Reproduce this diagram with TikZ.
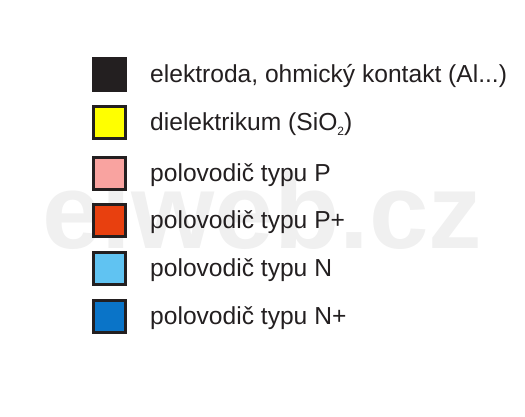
\documentclass[tikz,border=0pt]{standalone}
\usepackage{fontspec}
\setmainfont{Liberation Sans}
\definecolor{ink}{HTML}{231F20}
\definecolor{cyel}{HTML}{FFFF00}
\definecolor{cpink}{HTML}{F9A3A0}
\definecolor{cred}{HTML}{E8400F}
\definecolor{clblue}{HTML}{60C3F2}
\definecolor{cdblue}{HTML}{0A74C8}
\definecolor{wm}{HTML}{F0F0F0}
\tikzset{
  swatch/.style={draw=ink, line width=3pt, minimum size=32pt, inner sep=0pt, anchor=center},
  lbl/.style={anchor=base west, inner sep=0pt, text=ink, font=\fontsize{24.6}{28}\selectfont},
}
\begin{document}
\begin{tikzpicture}[x=1pt,y=-1pt]
\useasboundingbox (0,0) rectangle (525,416);
\node[anchor=base west, inner sep=0pt, text=wm, font=\fontsize{107}{110}\bfseries\selectfont] (wmk) at (42,248) {elweb.cz};
\node[swatch, fill=ink] (s1) at (109.5,74) {};
\node[swatch, fill=cyel] (s2) at (109.5,122) {};
\node[swatch, fill=cpink] (s3) at (109.5,173) {};
\node[swatch, fill=cred] (s4) at (109.5,220) {};
\node[swatch, fill=clblue] (s5) at (109.5,268) {};
\node[swatch, fill=cdblue] (s6) at (109.5,316) {};
\node[lbl] (t1) at (150,82) {elektroda, ohmický kontakt (Al...)};
\node[lbl] (t2) at (150,130) {dielektrikum (SiO\raisebox{-5pt}{\fontsize{12}{12}\selectfont 2})};
\node[lbl] (t3) at (150,181) {polovodič typu P};
\node[lbl] (t4) at (150,228) {polovodič typu P+};
\node[lbl] (t5) at (150,276) {polovodič typu N};
\node[lbl] (t6) at (150,324) {polovodič typu N+};
\end{tikzpicture}
\end{document}
